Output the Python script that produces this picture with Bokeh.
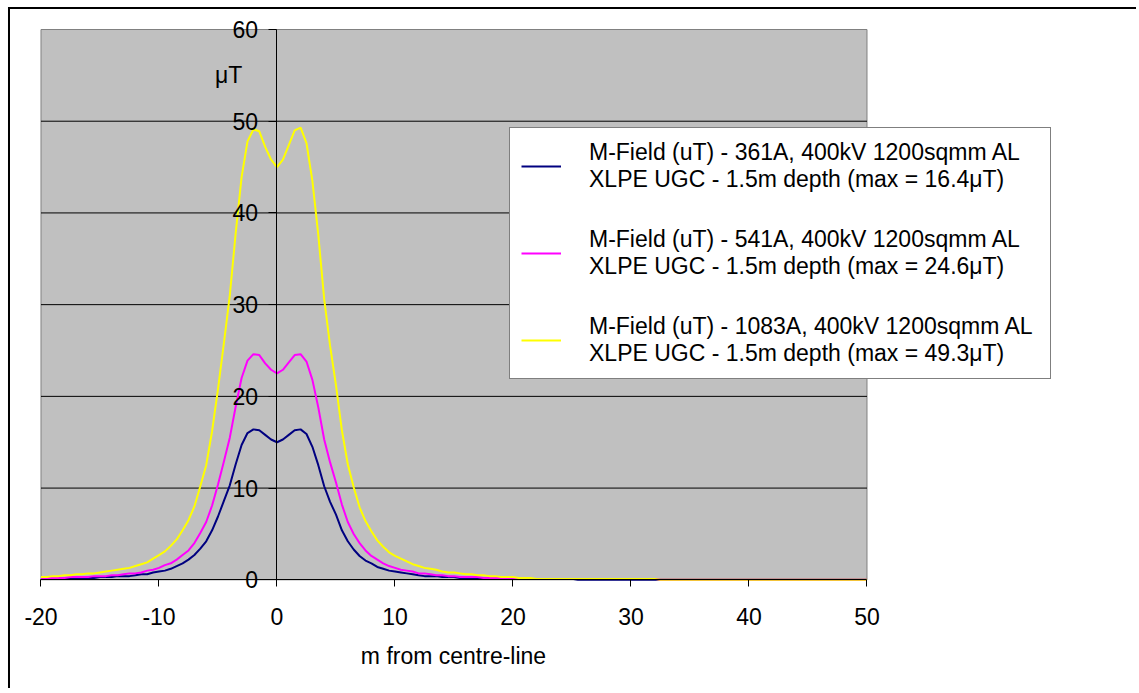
from bokeh.plotting import figure
from bokeh.models import Legend, LegendItem, FixedTicker, Label, BoxAnnotation
from bokeh.embed import file_html
from bokeh.resources import INLINE

# distance from centre-line (m), 0.5 m steps from -20 to 50
x_m = [i * 0.5 for i in range(-40, 101)]

field_361A = [
    0.1, 0.1, 0.1, 0.1, 0.2, 0.2, 0.2, 0.2, 0.2, 0.2,
    0.3, 0.3, 0.3, 0.4, 0.4, 0.4, 0.5, 0.6, 0.6, 0.8,
    0.9, 1.0, 1.2, 1.5, 1.8, 2.2, 2.7, 3.4, 4.2, 5.4,
    6.9, 8.6, 10.3, 12.6, 14.7, 16.0, 16.4, 16.3, 15.8, 15.3,
    15.0,
    15.3, 15.8, 16.3, 16.4, 15.9, 14.5, 12.5, 10.2, 8.5, 7.1,
    5.4, 4.2, 3.3, 2.6, 2.1, 1.8, 1.4, 1.2, 1.0, 0.9,
    0.8, 0.7, 0.6, 0.5, 0.4, 0.4, 0.4, 0.3, 0.3, 0.3,
    0.2, 0.2, 0.2, 0.2, 0.2, 0.1, 0.1, 0.1, 0.1, 0.1,
    0.1, 0.1, 0.1, 0.1, 0.1, 0.1, 0.1, 0.1, 0.1, 0.1,
    0.0, 0.0, 0.0, 0.0, 0.0, 0.0, 0.0, 0.0, 0.0, 0.0,
    0.0, 0.0, 0.0, 0.0, 0.0, 0.0, 0.0, 0.0, 0.0, 0.0,
    0.0, 0.0, 0.0, 0.0, 0.0, 0.0, 0.0, 0.0, 0.0, 0.0,
    0.0, 0.0, 0.0, 0.0, 0.0, 0.0, 0.0, 0.0, 0.0, 0.0,
    0.0, 0.0, 0.0, 0.0, 0.0, 0.0, 0.0, 0.0, 0.0, 0.0,
]

field_541A = [
    0.2, 0.2, 0.2, 0.2, 0.2, 0.3, 0.3, 0.3, 0.3, 0.4,
    0.4, 0.4, 0.5, 0.5, 0.6, 0.7, 0.7, 0.8, 1.0, 1.1,
    1.3, 1.6, 1.8, 2.2, 2.7, 3.2, 4.0, 5.1, 6.3, 8.1,
    10.4, 12.9, 15.5, 18.9, 22.0, 23.9, 24.6, 24.5, 23.6, 22.9,
    22.5,
    22.9, 23.7, 24.5, 24.6, 23.8, 21.8, 18.8, 15.3, 12.8, 10.6,
    8.2, 6.3, 5.0, 4.0, 3.2, 2.6, 2.2, 1.8, 1.5, 1.3,
    1.1, 1.0, 0.9, 0.7, 0.7, 0.6, 0.5, 0.5, 0.4, 0.4,
    0.3, 0.3, 0.3, 0.3, 0.2, 0.2, 0.2, 0.2, 0.2, 0.1,
    0.1, 0.1, 0.1, 0.1, 0.1, 0.1, 0.1, 0.1, 0.1, 0.1,
    0.1, 0.1, 0.1, 0.1, 0.1, 0.1, 0.1, 0.1, 0.1, 0.1,
    0.1, 0.1, 0.1, 0.1, 0.0, 0.0, 0.0, 0.0, 0.0, 0.0,
    0.0, 0.0, 0.0, 0.0, 0.0, 0.0, 0.0, 0.0, 0.0, 0.0,
    0.0, 0.0, 0.0, 0.0, 0.0, 0.0, 0.0, 0.0, 0.0, 0.0,
    0.0, 0.0, 0.0, 0.0, 0.0, 0.0, 0.0, 0.0, 0.0, 0.0,
]

field_1083A = [
    0.3, 0.3, 0.4, 0.4, 0.5, 0.5, 0.6, 0.6, 0.7, 0.7,
    0.8, 0.9, 1.0, 1.1, 1.2, 1.3, 1.5, 1.7, 1.9, 2.3,
    2.7, 3.1, 3.7, 4.4, 5.4, 6.5, 8.0, 10.2, 12.5, 16.2,
    20.8, 25.8, 31.0, 37.8, 43.9, 47.8, 49.1, 48.9, 47.2, 45.8,
    45.0,
    45.8, 47.4, 49.0, 49.3, 47.6, 43.5, 37.6, 30.6, 25.5, 21.2,
    16.3, 12.6, 10.1, 7.9, 6.4, 5.3, 4.3, 3.6, 3.0, 2.6,
    2.3, 2.0, 1.7, 1.5, 1.3, 1.2, 1.1, 0.9, 0.8, 0.8,
    0.7, 0.6, 0.6, 0.5, 0.5, 0.4, 0.4, 0.3, 0.3, 0.3,
    0.2, 0.2, 0.2, 0.1, 0.1, 0.1, 0.1, 0.1, 0.1, 0.1,
    0.1, 0.1, 0.1, 0.1, 0.1, 0.1, 0.1, 0.1, 0.1, 0.1,
    0.1, 0.1, 0.1, 0.1, 0.0, 0.0, 0.0, 0.0, 0.0, 0.0,
    0.0, 0.0, 0.0, 0.0, 0.0, 0.0, 0.0, 0.0, 0.0, 0.0,
    0.0, 0.0, 0.0, 0.0, 0.0, 0.0, 0.0, 0.0, 0.0, 0.0,
    0.0, 0.0, 0.0, 0.0, 0.0, 0.0, 0.0, 0.0, 0.0, 0.0,
]

series_labels = [
    "M-Field (uT) - 361A, 400kV 1200sqmm AL\nXLPE UGC - 1.5m depth (max = 16.4\u03bcT)",
    "M-Field (uT) - 541A, 400kV 1200sqmm AL\nXLPE UGC - 1.5m depth (max = 24.6\u03bcT)",
    "M-Field (uT) - 1083A, 400kV 1200sqmm AL\nXLPE UGC - 1.5m depth (max = 49.3\u03bcT)",
]
series_colors = ["#000080", "#FF00FF", "#FFFF00"]
x_ticks = [-20, -10, 0, 10, 20, 30, 40, 50]
y_ticks = [0, 10, 20, 30, 40, 50, 60]
grid_values = [10, 20, 30, 40, 50]
x_title = "m from centre-line"
y_title = "\u03bcT"

FONT = "Liberation Sans"
FS = "23px"

W, H = 1136, 688
# ranges chosen so that the plot area (-20..50, 0..60) sits where the reference puts it
p = figure(
    x_range=(-23.432, 72.839), y_range=(-11.852, 63.162),
    width=W, height=H,
    min_border_left=0, min_border_right=0, min_border_top=0, min_border_bottom=0,
    output_backend="svg", toolbar_location=None,
    background_fill_color="white", border_fill_color="white",
    outline_line_color=None,
)

# grey plot area
p.add_layout(BoxAnnotation(left=x_ticks[0], right=x_ticks[-1], bottom=y_ticks[0], top=y_ticks[-1],
                           fill_color="#C0C0C0", fill_alpha=1.0,
                           line_color="#808080", line_alpha=1.0, line_width=1, level="image"))

# x axis along y = 0
xa = p.xaxis[0]
xa.fixed_location = 0
xa.bounds = (x_ticks[0], x_ticks[-1])
xa.ticker = FixedTicker(ticks=x_ticks)
xa.major_label_overrides = {t: str(t) for t in x_ticks}
xa.axis_line_color = "black"
xa.major_tick_line_color = "black"
xa.major_tick_out = 7
xa.major_tick_in = 0
xa.minor_tick_line_color = None
xa.major_label_text_font = FONT
xa.major_label_text_font_size = FS
xa.major_label_text_color = "black"
xa.major_label_standoff = 21
xa.axis_label = x_title
xa.axis_label_text_font = FONT
xa.axis_label_text_font_size = FS
xa.axis_label_text_font_style = "normal"
xa.axis_label_text_color = "black"
xa.axis_label_standoff = 15

# y axis crossing at x = 0
ya = p.yaxis[0]
ya.fixed_location = 0
ya.bounds = (y_ticks[0], y_ticks[-1])
ya.ticker = FixedTicker(ticks=y_ticks)
ya.axis_line_color = "black"
ya.major_tick_line_color = "black"
ya.major_tick_out = 8
ya.major_tick_in = 0
ya.minor_tick_line_color = None
ya.major_label_text_font = FONT
ya.major_label_text_font_size = FS
ya.major_label_text_color = "black"
ya.major_label_standoff = 11

p.xgrid.visible = False
p.ygrid.visible = False
# horizontal gridlines limited to the plot area
p.segment(x0=[x_ticks[0]] * len(grid_values), y0=grid_values,
          x1=[x_ticks[-1]] * len(grid_values), y1=grid_values,
          line_color="black", line_width=1, level="underlay")

renderers = []
for vals, col in zip([field_361A, field_541A, field_1083A], series_colors):
    r = p.line(x_m, vals, line_color=col, line_width=2)
    renderers.append(r)

legend = Legend(
    items=[LegendItem(label=lab, renderers=[r]) for lab, r in zip(series_labels, renderers)],
    location=(509, 309),
    margin=0,
    padding=11,
    spacing=33,
    glyph_width=40,
    glyph_height=20,
    label_standoff=28,
    label_width=450,
    label_height=20,
    label_text_font=FONT,
    label_text_font_size=FS,
    label_text_line_height=1.0,
    label_text_color="black",
    border_line_color="black",
    border_line_width=1,
    background_fill_color="white",
    background_fill_alpha=1.0,
)
p.add_layout(legend)

p.add_layout(Label(x=-4.1, y=55, text=y_title, text_align="center", text_baseline="middle",
                   text_font=FONT, text_font_size=FS, text_color="black"))

# outer chart-area border: only its top and left edges fall inside the window
p.add_layout(BoxAnnotation(left=-22.797, right=200, top=62.453, bottom=62.235,
                           fill_color="black", fill_alpha=1.0, line_color=None))
p.add_layout(BoxAnnotation(left=-22.797, right=-22.627, top=62.453, bottom=-200,
                           fill_color="black", fill_alpha=1.0, line_color=None))

open("out.html", "w").write(file_html(p, INLINE))
